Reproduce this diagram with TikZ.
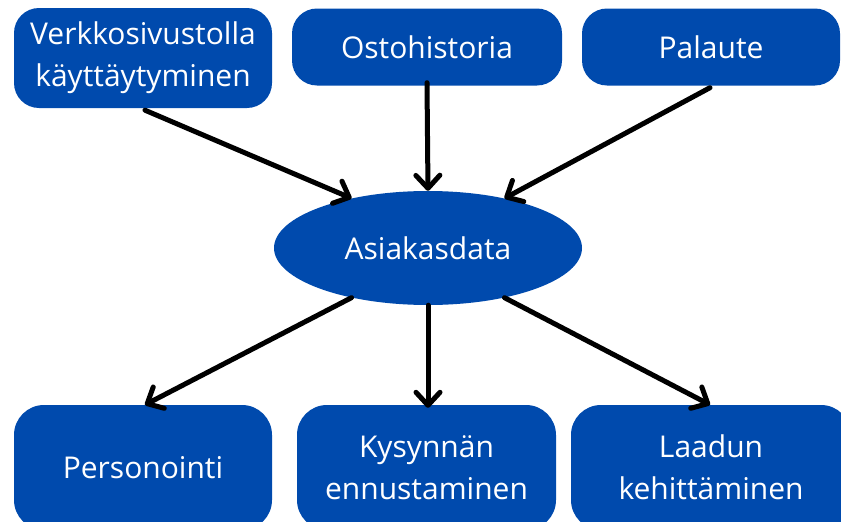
\documentclass[tikz,border=0pt]{standalone}
\usepackage{fontspec}
\setmainfont{Open Sans}
\usetikzlibrary{arrows.meta,shapes.geometric}
\definecolor{boxblue}{HTML}{004AAD}
\tikzset{
  box/.style={draw=none, fill=boxblue, rounded corners=25pt, text=white,
    align=center, inner sep=0pt,
    font=\fontsize{30}{42}\selectfont},
  hubnode/.style={ellipse, fill=boxblue, text=white, inner sep=0pt,
    font=\fontsize{30}{42}\selectfont},
  link/.style={line width=5pt, line cap=round,
    -{Straight Barb[length=13pt,width=24pt,line cap=round,line join=round]}}
}
\begin{document}
\begin{tikzpicture}[x=1pt,y=-1pt]
  \useasboundingbox (0,0) rectangle (841,522);
  \clip (0,0) rectangle (841,522);
  % sources
  \node[box, minimum width=258pt, minimum height=100pt] (web) at (143,58)
    {Verkkosivustolla\\käyttäytyminen};
  \node[box, minimum width=270pt, minimum height=77pt] (hist) at (427,47)
    {Ostohistoria};
  \node[box, minimum width=258pt, minimum height=77pt] (fb) at (711,47)
    {Palaute};
  % central data
  \node[hubnode, minimum width=308pt, minimum height=114pt] (hub) at (428,248)
    {Asiakasdata};
  % uses
  \node[box, rounded corners=30pt, minimum width=258pt, minimum height=125pt] (pers) at (143,467.5)
    {Personointi};
  \node[box, rounded corners=30pt, minimum width=259pt, minimum height=125pt] (fore) at (426.5,467.5)
    {Kysynnän\\ennustaminen};
  \node[box, rounded corners=30pt, minimum width=280pt, minimum height=125pt] (qual) at (711,467.5)
    {Laadun\\kehittäminen};
  % connectors
  \draw[link] ([shift={(2,2)}]web.south) -- (hub.147);
  \draw[link] ([yshift=3]hist.south) -- (hub.north);
  \draw[link] ([shift={(-1,2)}]fb.south) -- (hub.33);
  \draw[link] (hub.213) -- ([xshift=2]pers.north);
  \draw[link] (hub.south) -- ([yshift=-3]hub.south |- fore.north);
  \draw[link] (hub.327) -- ([xshift=-1]qual.north);
\end{tikzpicture}
\end{document}
